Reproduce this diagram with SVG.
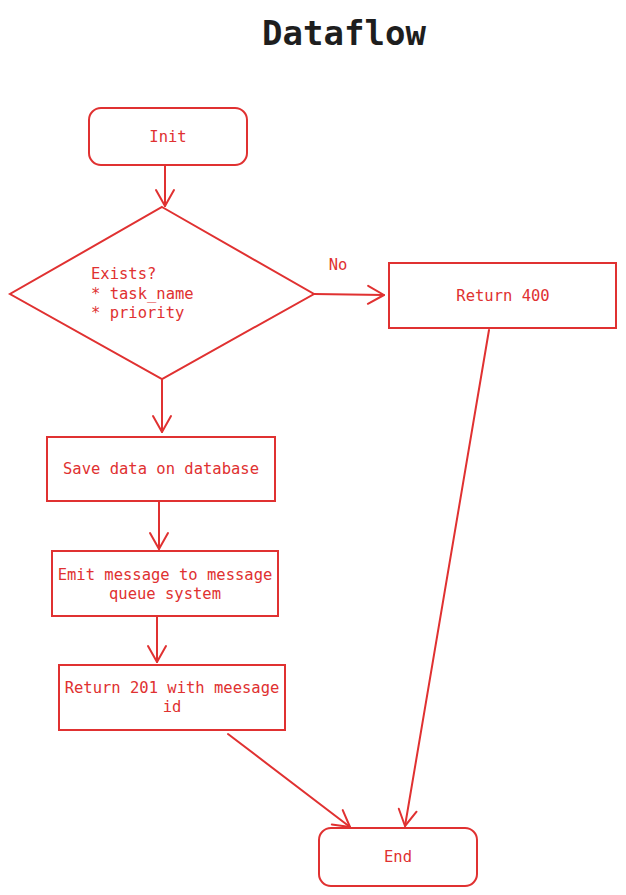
<svg xmlns="http://www.w3.org/2000/svg" width="626" height="895" viewBox="0 0 626 895">
<defs>
<marker id="ah" viewBox="0 0 20 24" refX="18" refY="12" markerWidth="20" markerHeight="24" markerUnits="userSpaceOnUse" orient="auto">
<path d="M2,3 L18,12 L2,21" fill="none" stroke="#e03131" stroke-width="2" stroke-linecap="round" stroke-linejoin="round"/>
</marker>
<style>
.s{fill:#fff;stroke:#e03131;stroke-width:2}
.t{fill:#e03131;font-family:"DejaVu Sans Mono","Liberation Mono",monospace;font-size:15.5px;text-anchor:middle}
.l{text-anchor:start}
.c{fill:none;stroke:#e03131;stroke-width:2;stroke-linecap:round}
</style>
</defs>
<rect width="626" height="895" fill="#fff"/>
<text x="344" y="45" style="fill:#1e1e1e;font-family:'DejaVu Sans Mono','Liberation Mono',monospace;font-size:34px;font-weight:bold;text-anchor:middle">Dataflow</text>
<g id="connectors">
<path class="c" d="M165,166 L165,206" marker-end="url(#ah)"/>
<path class="c" d="M162,380 L162,432" marker-end="url(#ah)"/>
<path class="c" d="M159,502 L159,549" marker-end="url(#ah)"/>
<path class="c" d="M157,616 L157,662" marker-end="url(#ah)"/>
<path class="c" d="M314,294 L384,295" marker-end="url(#ah)"/>
<path class="c" d="M489,330 L405,826" marker-end="url(#ah)"/>
<path class="c" d="M228,734 L350,827" marker-end="url(#ah)"/>
<text class="t" x="338" y="270">No</text>
</g>
<g id="init">
<rect class="s" x="89" y="108" width="158" height="57" rx="12"/>
<text class="t" x="168" y="142">Init</text>
</g>
<g id="exists">
<path class="s" d="M162,207 L314,294 L162,379 L10,294 Z"/>
<text class="t l" x="91" y="279">Exists?</text>
<text class="t l" x="91" y="299">* task_name</text>
<text class="t l" x="91" y="318">* priority</text>
</g>
<g id="return400">
<rect class="s" x="389" y="263" width="227" height="65"/>
<text class="t" x="503" y="301">Return 400</text>
</g>
<g id="save">
<rect class="s" x="47" y="437" width="228" height="64"/>
<text class="t" x="161" y="474">Save data on database</text>
</g>
<g id="emit">
<rect class="s" x="52" y="551" width="226" height="65"/>
<text class="t" x="165" y="580">Emit message to message</text>
<text class="t" x="165" y="599">queue system</text>
</g>
<g id="return201">
<rect class="s" x="59" y="665" width="226" height="65"/>
<text class="t" x="172" y="693">Return 201 with meesage</text>
<text class="t" x="172" y="712">id</text>
</g>
<g id="end">
<rect class="s" x="319" y="828" width="158" height="58" rx="12"/>
<text class="t" x="398" y="862">End</text>
</g>
</svg>
